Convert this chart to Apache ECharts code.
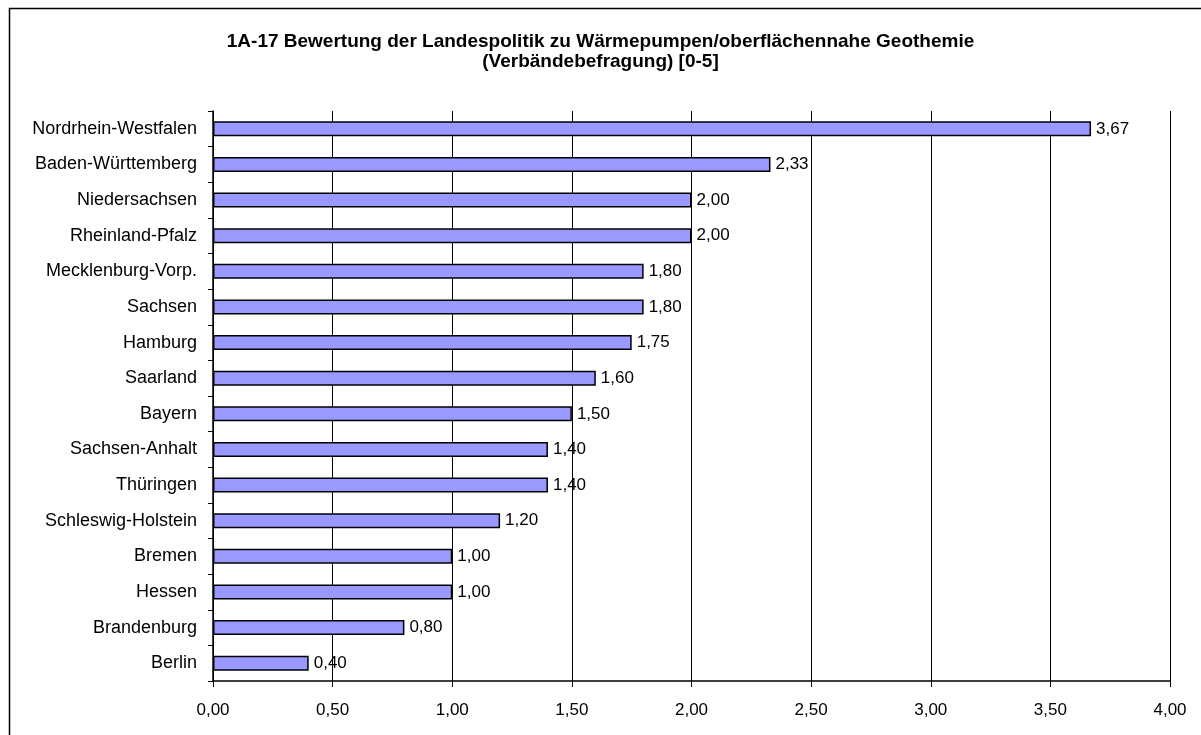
<!DOCTYPE html>
<html>
<head>
<meta charset="utf-8">
<script src="https://cdn.jsdelivr.net/npm/echarts@6/dist/echarts.min.js"></script>
<style>
  html, body { margin: 0; padding: 0; background: #fff; }
  #chart { width: 1201px; height: 735px; }
</style>
</head>
<body>
<div id="chart"></div>
<script>
var laender = [
  "Nordrhein-Westfalen", "Baden-Württemberg", "Niedersachsen", "Rheinland-Pfalz",
  "Mecklenburg-Vorp.", "Sachsen", "Hamburg", "Saarland", "Bayern", "Sachsen-Anhalt",
  "Thüringen", "Schleswig-Holstein", "Bremen", "Hessen", "Brandenburg", "Berlin"
];
var bewertung = [3.67, 2.33, 2.00, 2.00, 1.80, 1.80, 1.75, 1.60, 1.50, 1.40, 1.40, 1.20, 1.00, 1.00, 0.80, 0.40];

function komma(v) {
  return Number(v).toFixed(2).replace(".", ",");
}

var myChart = echarts.init(document.getElementById("chart"));
var option = {
  animation: false,
  textStyle: { fontFamily: "Liberation Sans, Arial, sans-serif", color: "#000" },
  title: {
    left: "center",
    top: 27,
    text: "1A-17 Bewertung der Landespolitik zu Wärmepumpen/oberflächennahe Geothemie\n(Verbändebefragung) [0-5]",
    textStyle: { fontSize: 19, fontWeight: "bold", lineHeight: 20, color: "#000" },
  },
  graphic: [
    {
      type: "rect",
      shape: { x: 9.5, y: 8.5, width: 1400, height: 1000 },
      style: { fill: "none", stroke: "#000", lineWidth: 1.5 },
      z: 100,
    },
  ],
  grid: { left: 213, right: 31, top: 111, bottom: 54 },
  xAxis: {
    type: "value",
    min: 0,
    max: 4,
    interval: 0.5,
    axisLine: { show: true, lineStyle: { color: "#000", width: 1.5 } },
    axisTick: { show: true, length: 6, lineStyle: { color: "#000" } },
    axisLabel: { margin: 21, fontSize: 17, color: "#000", formatter: komma },
    splitLine: { show: true, lineStyle: { color: "#000", width: 1 } },
  },
  yAxis: {
    type: "category",
    inverse: true,
    data: laender,
    axisLine: { show: true, lineStyle: { color: "#000", width: 1.5 } },
    axisTick: { show: true, length: 5, lineStyle: { color: "#000" } },
    axisLabel: { margin: 16, fontSize: 18, color: "#000" },
  },
  series: [
    {
      type: "bar",
      data: bewertung,
      barWidth: 15,
      itemStyle: { color: "#9999ff", borderColor: "#000", borderWidth: 1.5 },
      label: {
        show: true,
        position: "right",
        distance: 5,
        fontSize: 17,
        color: "#000",
        formatter: function (p) { return komma(p.value); },
      },
    },
  ],
};
myChart.setOption(option);
</script>
</body>
</html>
